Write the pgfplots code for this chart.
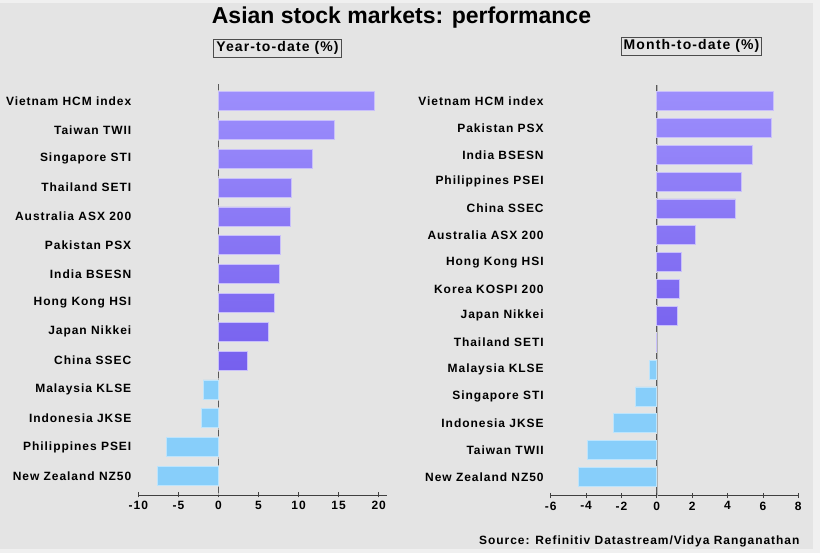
\documentclass[border=0pt]{standalone}
\usepackage{fontspec}
\setmainfont{Liberation Sans}[LetterSpace=8]
\newfontfamily\titlefont{Liberation Sans}
\usepackage{pgfplots}
\pgfplotsset{compat=1.18}
\definecolor{bg}{HTML}{E4E4E4}
\definecolor{pos}{HTML}{8672F6}
\definecolor{postop}{HTML}{9C8EFC}
\definecolor{posbot}{HTML}{7660EE}
\definecolor{neg}{HTML}{87CEFA}
\definecolor{axgray}{HTML}{404040}
\pgfplotsset{
  barbase/.style={
    scale only axis,
    xbar, bar width=19pt, bar shift=0pt,
    axis x line=bottom, axis y line=left,
    y axis line style={draw=none},
    x axis line style={draw=axgray, line width=0.8pt, -},
    ytick style={draw=none},
    xtick style={draw=axgray, line width=0.8pt},
    xtick align=center,
    major tick length=5pt,
    tick label style={font=\bfseries\fontsize{12}{14}\selectfont},
    /pgf/number format/assume math mode=true,
    xticklabel style={yshift=0pt},
    yticklabel style={xshift=-1pt},
    clip=false,
  },
  posbar/.style={xbar, bar width=19pt, bar shift=0pt, draw=white!55!pos, line width=0.7pt, top color=postop, bottom color=posbot},
  negbar/.style={xbar, bar width=19pt, bar shift=0pt, draw=white!45!neg, line width=0.7pt, fill=neg},
}
\begin{document}
\begin{tikzpicture}[x=1pt,y=1pt]
\fill[bg] (0,0) rectangle (820,553);
\fill[white!94!black] (813,0) rectangle (820,553);
\fill[white!94!black] (0,0) rectangle (820,4);
\fill[white!94!black] (0,550) rectangle (820,553);

\node[font=\titlefont\bfseries\fontsize{23}{27}\selectfont] at (401.5,535) {Asian stock markets: performance};
\node[draw=black!70, line width=0.9pt, inner sep=2.5pt, font=\bfseries\fontsize{14}{16}\selectfont] at (277.5,505) {Year-to-date (\%)};
\node[draw=black!70, line width=0.9pt, inner sep=2.5pt, font=\bfseries\fontsize{14}{16}\selectfont] at (691.5,507) {Month-to-date (\%)};
\node[anchor=east, font=\bfseries\fontsize{12}{14}\selectfont] at (803,12) {Source: Refinitiv Datastream/Vidya Ranganathan};

% Left: Year-to-date
\begin{axis}[barbase,
  at={(138.3pt,58pt)}, anchor=south west,
  width=248.4pt, height=409pt,
  xmin=-10, xmax=21, ymin=-0.66, ymax=13.52,
  xtick={-10,-5,0,5,10,15,20},
  ytick={0,...,13},
  yticklabels={New Zealand NZ50,Philippines PSEI,Indonesia JKSE,Malaysia KLSE,China SSEC,Japan Nikkei,Hong Kong HSI,India BSESN,Pakistan PSX,Australia ASX 200,Thailand SETI,Singapore STI,Taiwan TWII,Vietnam HCM index},
]
\draw[black!30, line width=0.6pt] (axis cs:0,-0.66) -- (axis cs:0,13.52);
\pgfplotsinvokeforeach{-0.5,0.5,1.5,2.5,3.5,4.5,5.5,6.5,7.5,8.5,9.5,10.5,11.5,12.5,13.5}{\draw[black!65, line width=0.9pt] ([yshift=-3pt]axis cs:0,#1) -- ([yshift=3pt]axis cs:0,#1);}
\addplot[posbar] coordinates {(3.6,4) (6.2,5) (7.0,6) (7.6,7) (7.7,8) (9.0,9) (9.1,10) (11.7,11) (14.5,12) (19.5,13)};
\addplot[negbar] coordinates {(-7.6,0) (-6.45,1) (-2.1,2) (-1.9,3)};
\end{axis}

% Right: Month-to-date
\begin{axis}[barbase,
  at={(550.7pt,57.3pt)}, anchor=south west,
  width=247.6pt, height=410.7pt,
  xmin=-6, xmax=8, ymin=-0.70, ymax=14.6,
  xtick={-6,-4,...,8},
  ytick={0,...,14},
  yticklabels={New Zealand NZ50,Taiwan TWII,Indonesia JKSE,Singapore STI,Malaysia KLSE,Thailand SETI,Japan Nikkei,Korea KOSPI 200,Hong Kong HSI,Australia ASX 200,China SSEC,Philippines PSEI,India BSESN,Pakistan PSX,Vietnam HCM index},
]
\draw[black!30, line width=0.6pt] (axis cs:0,-0.70) -- (axis cs:0,14.6);
\pgfplotsinvokeforeach{-0.5,0.5,1.5,2.5,3.5,4.5,5.5,6.5,7.5,8.5,9.5,10.5,11.5,12.5,13.5,14.5}{\draw[black!65, line width=0.9pt] ([yshift=-3pt]axis cs:0,#1) -- ([yshift=3pt]axis cs:0,#1);}
\addplot[posbar] coordinates {(0,5) (1.15,6) (1.3,7) (1.41,8) (2.18,9) (4.46,10) (4.77,11) (5.42,12) (6.5,13) (6.58,14)};
\addplot[negbar] coordinates {(-4.43,0) (-3.92,1) (-2.45,2) (-1.19,3) (-0.42,4)};
\end{axis}
\end{tikzpicture}
\end{document}
